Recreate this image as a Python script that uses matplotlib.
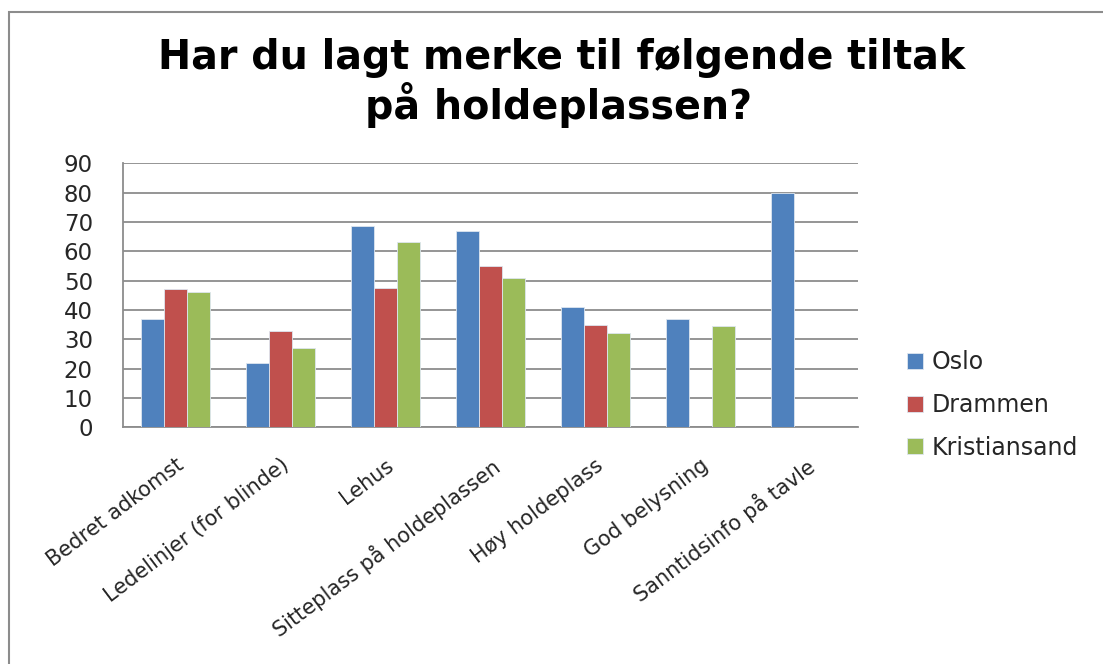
import matplotlib
matplotlib.use("Agg")
import matplotlib.pyplot as plt
import numpy as np
from matplotlib.patches import Rectangle

categories = ["Bedret adkomst", "Ledelinjer (for blinde)", "Lehus",
              "Sitteplass på holdeplassen", "Høy holdeplass", "God belysning",
              "Sanntidsinfo på tavle"]
series_names = ["Oslo", "Drammen", "Kristiansand"]
oslo = [37, 22, 68.5, 67, 41, 37, 80]
drammen = [47, 33, 47.5, 55, 35, 0, 0]
kristiansand = [46, 27, 63, 51, 32, 34.5, 0]
yticks = [0, 10, 20, 30, 40, 50, 60, 70, 80, 90]
colors = ["#4F81BD", "#C0504D", "#9BBB59"]

plt.rcParams['font.family'] = ['DejaVu Sans']

W, H = 1103, 664
fig = plt.figure(figsize=(W / 100, H / 100), dpi=100)
ax = fig.add_axes([122.7 / W, 1 - 427.3 / H, (857.7 - 122.7) / W, (427.3 - 163.3) / H])

x = np.arange(len(categories))
bw = 0.22
for i, (vals, name) in enumerate(zip([oslo, drammen, kristiansand], series_names)):
    ax.bar(x + (i - 1) * bw, vals, width=bw, color=colors[i], label=name,
           edgecolor="#DDE6F0", linewidth=0.6, zorder=3)

ax.set_xlim(-0.5, len(categories) - 0.5)
ax.set_ylim(0, 90)
ax.set_yticks(yticks)
ax.set_yticklabels([str(v) for v in yticks], fontsize=16.5, color="#262626")
ax.yaxis.grid(True, color="#8C8C8C", linewidth=1.3, zorder=0)
ax.set_axisbelow(True)
ax.tick_params(axis="y", length=0, pad=21.5)
ax.tick_params(axis="x", length=0, pad=20)
ax.set_xticks(x)
ax.set_xticklabels(categories, rotation=37, ha="right", rotation_mode="anchor",
                   fontsize=15, color="#262626")
for side in ["top", "right"]:
    ax.spines[side].set_visible(False)
for side in ["left", "bottom"]:
    ax.spines[side].set_color("#8C8C8C")
    ax.spines[side].set_linewidth(1.3)

handles, labels = ax.get_legend_handles_labels()
leg = fig.legend(handles, labels, loc="center left", bbox_to_anchor=(906.7 / W, 1 - 405 / H),
                 frameon=False, fontsize=17, handlelength=0.68, handleheight=0.68,
                 labelspacing=0.79, handletextpad=0.38, borderpad=0, borderaxespad=0)
for t in leg.get_texts():
    t.set_color("#262626")

fig.text(562 / W, 1 - 58 / H, "Har du lagt merke til følgende tiltak", ha="center", va="center",
         fontsize=28.5, fontweight="bold", color="black")
fig.text(559 / W, 1 - 105 / H, "på holdeplassen?", ha="center", va="center",
         fontsize=28.5, fontweight="bold", color="black")

fig.patches.append(Rectangle((9 / W, -0.1), 1.2, 1 - 12 / H + 0.1, transform=fig.transFigure,
                             fill=False, edgecolor="#8C8C8C", linewidth=1.5))

fig.savefig("out.png", dpi=100)
